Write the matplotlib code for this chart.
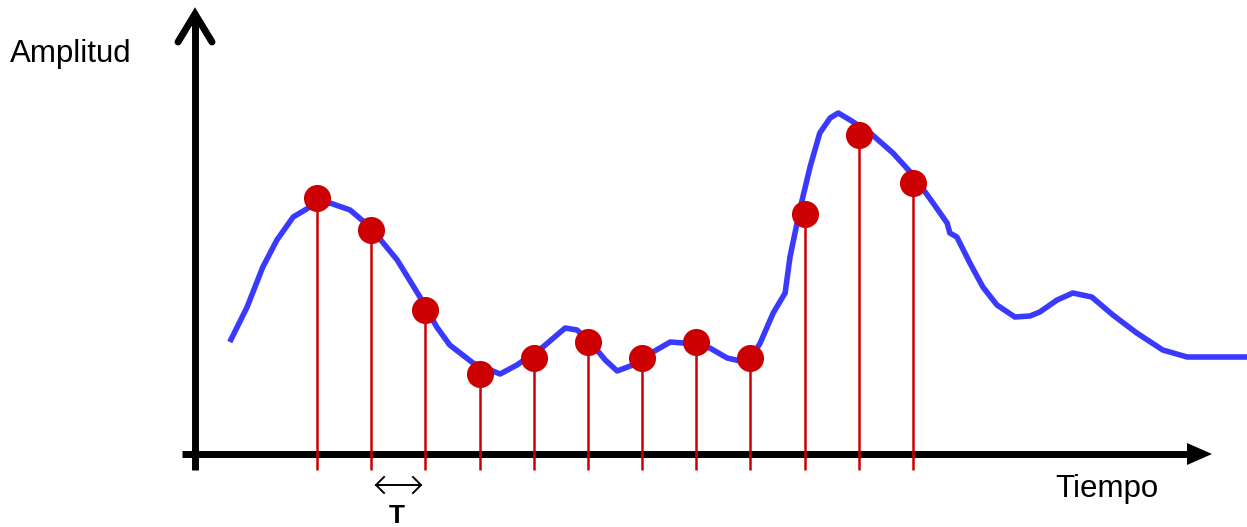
import numpy as np
import matplotlib
matplotlib.use("Agg")
import matplotlib.pyplot as plt
from matplotlib.patches import Polygon

plt.rcParams['font.family'] = ['Liberation Sans', 'DejaVu Sans']

# =========================
# 数据 (时间以采样周期 T 为单位, 幅度任意单位)
# =========================
curve_t = [-0.61, -0.29, 0.00, 0.26, 0.56, 0.87, 1.24, 1.61, 1.98, 2.48,
           2.90, 3.21, 3.45, 3.88, 4.38, 4.69, 5.17, 5.58, 5.80, 6.09,
           6.32, 6.54, 6.83, 7.20, 7.52, 7.76, 8.25, 8.57, 8.81, 9.05,
           9.18, 9.42, 9.64, 9.73, 9.91, 10.10, 10.28, 10.47, 10.62, 10.84,
           11.21, 11.63, 12.00, 12.37, 12.63, 12.68, 12.81, 13.05, 13.29, 13.55,
           13.88, 14.16, 14.34, 14.66, 14.95, 15.30, 15.69, 16.13, 16.61, 17.06,
           18.17]
curve_a = [1.12, 1.47, 1.87, 2.14, 2.37, 2.47, 2.51, 2.44, 2.27, 1.94,
           1.57, 1.27, 1.09, 0.91, 0.80, 0.89, 1.07, 1.26, 1.24, 1.09,
           0.94, 0.83, 0.89, 1.02, 1.12, 1.11, 1.06, 0.96, 0.93, 0.99,
           1.11, 1.41, 1.61, 1.97, 2.44, 2.87, 3.21, 3.36, 3.41, 3.34,
           3.21, 3.01, 2.79, 2.51, 2.31, 2.21, 2.17, 1.91, 1.67, 1.49,
           1.37, 1.38, 1.42, 1.54, 1.61, 1.57, 1.39, 1.21, 1.04, 0.97,
           0.97]

sample_n = [1, 2, 3, 4, 5, 6, 7, 8, 9, 10, 11, 12]
sample_a = [2.56, 2.24, 1.44, 0.80, 0.96, 1.12, 0.96, 1.12, 0.96, 2.40, 3.19, 2.71]

x_label = "Amplitud"
t_label = "Tiempo"
period_label = "T"

BLUE = "#3a3aff"
RED = "#cc0000"

# =========================
# 画布: 两层坐标, 一层像素(装饰), 一层数据
# =========================
fig = plt.figure(figsize=(12.47, 5.27), dpi=100)
deco = fig.add_axes([0, 0, 1, 1])
deco.set_xlim(0, 1247)
deco.set_ylim(527, 0)
deco.axis("off")

ax = fig.add_axes([0, 0, 1, 1])
ax.set_xlim(-4.851, 18.165)
ax.set_ylim(-0.73, 4.54)
ax.axis("off")
ax.patch.set_alpha(0)

# 坐标轴箭头
lw_axis = 5.0
deco.plot([195, 195], [470, 14], color="black", lw=lw_axis, solid_capstyle="butt", zorder=1)
deco.plot([178, 195, 212], [42, 14, 42], color="black", lw=lw_axis,
          solid_joinstyle="miter", solid_capstyle="round", zorder=1)
deco.plot([182, 1192], [454, 454], color="black", lw=lw_axis, solid_capstyle="butt", zorder=1)
deco.add_patch(Polygon([[1187, 443], [1212, 454], [1187, 465]], closed=True,
                       color="black", lw=0, zorder=1))

# T 双箭头
deco.plot([376, 421], [485, 485], color="black", lw=1.4)
deco.plot([384, 376, 384], [477, 485, 493], color="black", lw=1.4, solid_joinstyle="miter")
deco.plot([413, 421, 413], [477, 485, 493], color="black", lw=1.4, solid_joinstyle="miter")
deco.text(397, 523, period_label, fontsize=19, fontweight="bold", ha="center", va="baseline")

deco.text(10, 62, x_label, fontsize=22.5, ha="left", va="baseline")
deco.text(1055, 497, t_label, fontsize=22.5, ha="left", va="baseline")

# 采样线 + 曲线 + 采样点
ax.vlines(sample_n, -0.16, sample_a, color=RED, lw=1.8, zorder=3)
ax.plot(curve_t, curve_a, color=BLUE, lw=4.0, solid_joinstyle="round",
        solid_capstyle="butt", zorder=4)
ax.plot(sample_n, sample_a, "o", color=RED, markersize=19.5, markeredgewidth=0, zorder=5)

fig.savefig("out.png", dpi=100)
